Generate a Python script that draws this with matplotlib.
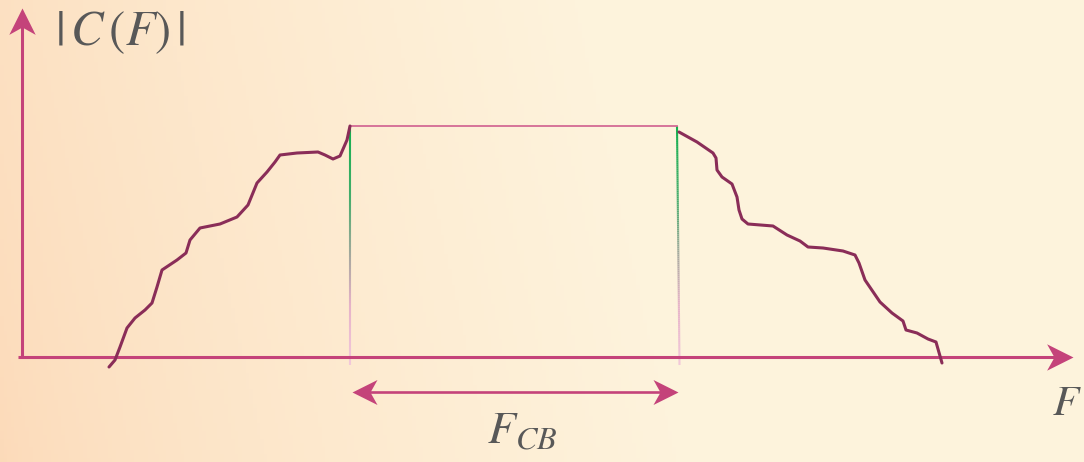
import numpy as np
import matplotlib.pyplot as plt
from matplotlib.collections import LineCollection
from matplotlib.colors import LinearSegmentedColormap
from matplotlib.markers import MarkerStyle
from matplotlib.path import Path
from matplotlib.transforms import Affine2D

# spectrum sketch, x = frequency, y = |C(F)| (units: pixels from origin)
left_f = [87, 93, 98, 105, 113, 123, 130, 135, 140, 155, 164, 168, 178, 198, 215,
          226, 235, 245, 253, 258, 275, 296, 303, 311, 318, 325, 328]
left_c = [-10, -3, 10, 29, 39, 47, 54, 70, 87, 97, 104, 117, 129, 133, 140,
          152, 174, 185, 195, 202, 204, 205, 202, 198, 201, 217, 231]
right_f = [657, 675, 691, 694, 695, 700, 710, 715, 717, 720, 726, 751, 765, 778,
           786, 801, 821, 833, 837, 843, 858, 870, 881, 884, 895, 906, 914, 920]
right_c = [225, 215, 204, 199, 187, 180, 173, 160, 147, 138, 133, 131, 122, 116,
           110, 109, 106, 102, 94, 77, 55, 44, 36, 27, 24, 18, 15, -6]
band_lo, band_hi = 328, 655
band_top = 231
band_bottom = -8

CURVE = "#8a2d58"
AXIS = "#c4437a"
TEXT = "#585858"

plt.rcParams["mathtext.fontset"] = "stix"

fig = plt.figure(figsize=(10.84, 4.62), dpi=100)
ax = fig.add_axes([0, 0, 1, 1])
ax.set_xlim(-22, 1062)
ax.set_ylim(-105, 357)
ax.axis("off")

# warm background gradient
gx = np.linspace(0, 1, 300)
gy = np.linspace(0, 1, 120)
GX, GY = np.meshgrid(gx, gy)
t = np.clip(GX * 1.6 + (1 - GY) * 0.15, 0, 1) ** 0.7
c0 = np.array([0.988, 0.855, 0.725])
c1 = np.array([0.996, 0.953, 0.863])
img = c0[None, None, :] * (1 - t[..., None]) + c1[None, None, :] * t[..., None]
ax.imshow(img, extent=(-22, 1062, -105, 357), origin="upper", aspect="auto", zorder=0)

# axes with arrowheads
head = Path([(0, 0), (-1, 0.5), (-0.72, 0), (-1, -0.5), (0, 0)],
            [Path.MOVETO, Path.LINETO, Path.LINETO, Path.LINETO, Path.CLOSEPOLY])


def arrow_marker(angle):
    return MarkerStyle(head, transform=Affine2D().rotate_deg(angle))


ax.plot([-4, 1040], [0, 0], color=AXIS, lw=2.2, zorder=3, solid_capstyle="butt")
ax.plot([1051], [0], marker=arrow_marker(0), ms=38, color=AXIS, mew=0, zorder=4)
ax.plot([0, 0], [0, 340], color=AXIS, lw=2.2, zorder=3, solid_capstyle="butt")
ax.plot([0], [349], marker=arrow_marker(90), ms=38, color=AXIS, mew=0, zorder=4)

# band edges: green at top fading through grey to pink
cmap = LinearSegmentedColormap.from_list(
    "edge",
    [(0, "#f2c8da"), (0.25, "#e6b2c8"), (0.45, "#a9a8a0"), (0.7, "#45ad6c"), (1, "#12b04e")],
)
for x0, x1 in [(band_lo, band_lo), (band_hi, band_hi + 2.5)]:
    ys = np.linspace(band_bottom, band_top, 120)
    xs = np.linspace(x1, x0, 120)
    pts = np.column_stack([xs, ys]).reshape(-1, 1, 2)
    segs = np.concatenate([pts[:-1], pts[1:]], axis=1)
    lc = LineCollection(segs, cmap=cmap, linewidths=1.5, zorder=2)
    lc.set_array(np.linspace(0, 1, len(segs)))
    ax.add_collection(lc)
ax.plot([band_lo, band_hi], [band_top, band_top], color="#d46a94", lw=1.3, zorder=2)

# spectrum curve
ax.plot(left_f, left_c, color=CURVE, lw=2.2, zorder=5, solid_joinstyle="round",
        solid_capstyle="round")
ax.plot(right_f, right_c, color=CURVE, lw=2.2, zorder=5, solid_joinstyle="round",
        solid_capstyle="round")

# bandwidth double arrow
ax.plot([band_lo + 14, band_hi - 12], [-35, -35], color=AXIS, lw=1.9, zorder=3)
ax.plot([band_lo + 2], [-35], marker=arrow_marker(180), ms=36, color=AXIS, mew=0, zorder=4)
ax.plot([band_hi + 1], [-35], marker=arrow_marker(0), ms=36, color=AXIS, mew=0, zorder=4)

# labels
ax.text(33, 325, r"$|\,C\,(F)\,|$", fontsize=35, color=TEXT, va="center", ha="left")
ax.text(1030, -58, r"$F$", fontsize=31, color=TEXT, va="baseline", ha="left")
ax.text(465, -86, r"$F_{CB}$", fontsize=33, color=TEXT, va="baseline", ha="left")

fig.savefig("out.png", dpi=100)
